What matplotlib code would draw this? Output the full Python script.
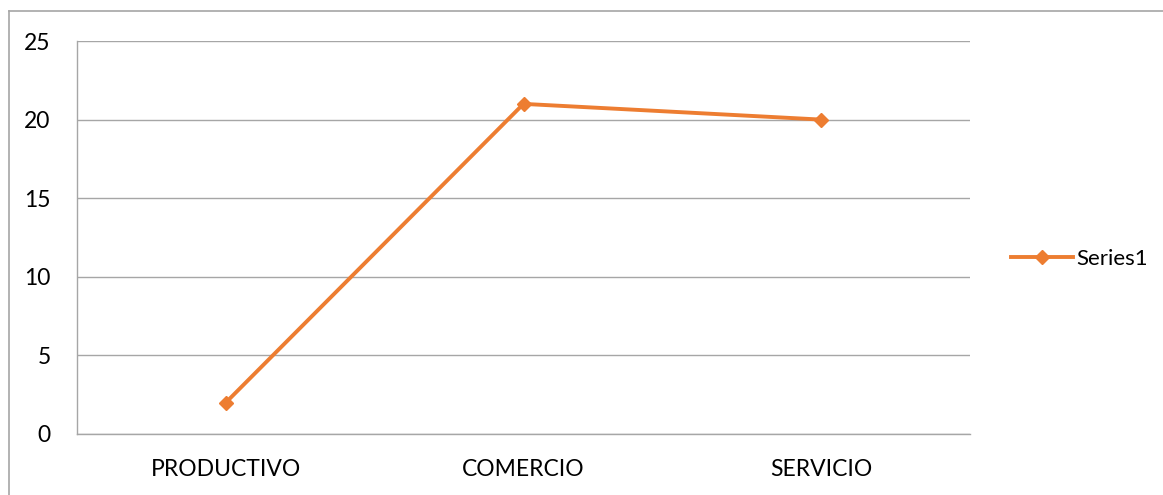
import matplotlib.pyplot as plt
from matplotlib.lines import Line2D

categories = ['PRODUCTIVO', 'COMERCIO', 'SERVICIO']
values = [2, 21, 20]
yticks = [0, 5, 10, 15, 20, 25]

plt.rcParams['font.family'] = ['Lato', 'DejaVu Sans']

fig = plt.figure(figsize=(11.63, 4.95), dpi=100)
ax = fig.add_axes([77 / 1163, 1 - 434 / 495, (970 - 77) / 1163, (434 - 41) / 495])

orange = '#ED7D31'
x = range(len(categories))
ax.plot(x, values, color=orange, linewidth=2.8, marker='D', markersize=7.5,
        label='Series1')

ax.set_xlim(-0.5, len(categories) - 0.5)
ax.set_ylim(0, 25)
ax.set_yticks(yticks)
ax.set_xticks(list(x))
ax.set_xticklabels(categories)
ax.tick_params(length=0, labelsize=16.5, colors='black')
ax.tick_params(axis='y', pad=19)
ax.tick_params(axis='x', pad=18)

ax.grid(axis='y', color='#A6A6A6', linewidth=1)
ax.set_axisbelow(True)
for side in ['top', 'right']:
    ax.spines[side].set_visible(False)
for side in ['left', 'bottom']:
    ax.spines[side].set_color('#A6A6A6')
    ax.spines[side].set_linewidth(1)

ax.legend(loc='center left', bbox_to_anchor=(1.036, 0.445), frameon=False,
          fontsize=16, handlelength=2.8, handletextpad=0.15, borderaxespad=0)

# outer chart border (only top and left fall inside the image)
fig.add_artist(Line2D([8.5 / 1163, 8.5 / 1163], [0, 1 - 11 / 495],
                      transform=fig.transFigure, color='#A6A6A6', linewidth=1.2))
fig.add_artist(Line2D([8.5 / 1163, 1], [1 - 11 / 495, 1 - 11 / 495],
                      transform=fig.transFigure, color='#A6A6A6', linewidth=1.2))

fig.savefig('out.png', dpi=100)
